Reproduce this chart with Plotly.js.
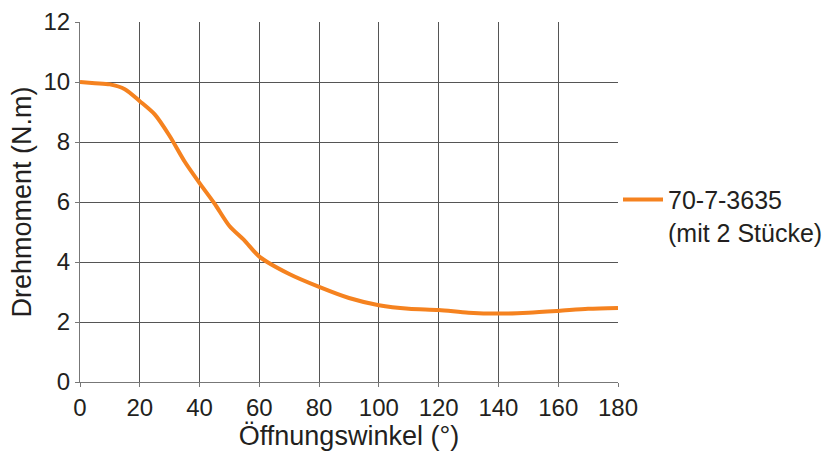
<!DOCTYPE html>
<html>
<head>
<meta charset="utf-8">
<script src="https://cdn.plot.ly/plotly-3.0.1.min.js"></script>
<style>html,body{margin:0;padding:0;background:#fff;}#chart{width:840px;height:454px;}</style>
</head>
<body>
<div id="chart"></div>
<script>
const angles = [0, 5, 10, 15, 20, 25, 30, 35, 40, 45, 50, 55, 60, 70, 80, 90, 100, 110, 120, 130, 140, 150, 160, 170, 180];
const torque = [10.0, 9.96, 9.92, 9.76, 9.36, 8.92, 8.2, 7.35, 6.63, 5.95, 5.2, 4.72, 4.18, 3.6, 3.17, 2.8, 2.56, 2.44, 2.4, 2.31, 2.28, 2.31, 2.37, 2.44, 2.47];
const seriesName = '70-7-3635<br>(mit 2 Stücke)';
const xTitle = 'Öffnungswinkel (°)';
const yTitle = 'Drehmoment (N.m)';
const xTicks = [0, 20, 40, 60, 80, 100, 120, 140, 160, 180];
const yTicks = [0, 2, 4, 6, 8, 10, 12];

const font = 'Liberation Sans, Arial, Helvetica, sans-serif';
const trace = {
  x: angles, y: torque, type: 'scatter', mode: 'lines', name: seriesName,
  line: {color: '#f5821f', width: 4, shape: 'spline', smoothing: 0.8}
};
const layout = {
  width: 840, height: 454,
  margin: {l: 80, r: 222, t: 22, b: 72},
  paper_bgcolor: '#fff', plot_bgcolor: '#fff',
  font: {family: font, color: '#231f20', size: 24},
  showlegend: true,
  legend: {x: 1.0, xanchor: 'left', y: 0.462, yanchor: 'middle', valign: 'top', itemwidth: 40,
           font: {size: 25, color: '#231f20'}, bgcolor: 'rgba(0,0,0,0)'},
  xaxis: {
    range: [0, 180], tickvals: xTicks, ticktext: xTicks.map(String),
    showgrid: true, gridcolor: '#555', gridwidth: 1, zeroline: false,
    showline: true, linecolor: '#777', linewidth: 1,
    ticks: 'outside', ticklen: 4, tickcolor: '#777',
    tickfont: {size: 24, color: '#231f20'},
    title: {text: xTitle, font: {size: 27, color: '#231f20'}, standoff: 4}
  },
  yaxis: {
    range: [0, 12], tickvals: yTicks, ticktext: yTicks.map(String),
    showgrid: true, gridcolor: '#555', gridwidth: 1, zeroline: false,
    showline: true, linecolor: '#777', linewidth: 1,
    ticks: 'outside', ticklen: 4, tickcolor: '#777',
    tickfont: {size: 24, color: '#231f20'},
    title: {text: yTitle, font: {size: 27, color: '#231f20'}, standoff: 4}
  }
};
Plotly.newPlot('chart', [trace], layout, {displayModeBar: false, staticPlot: true});
</script>
</body>
</html>
